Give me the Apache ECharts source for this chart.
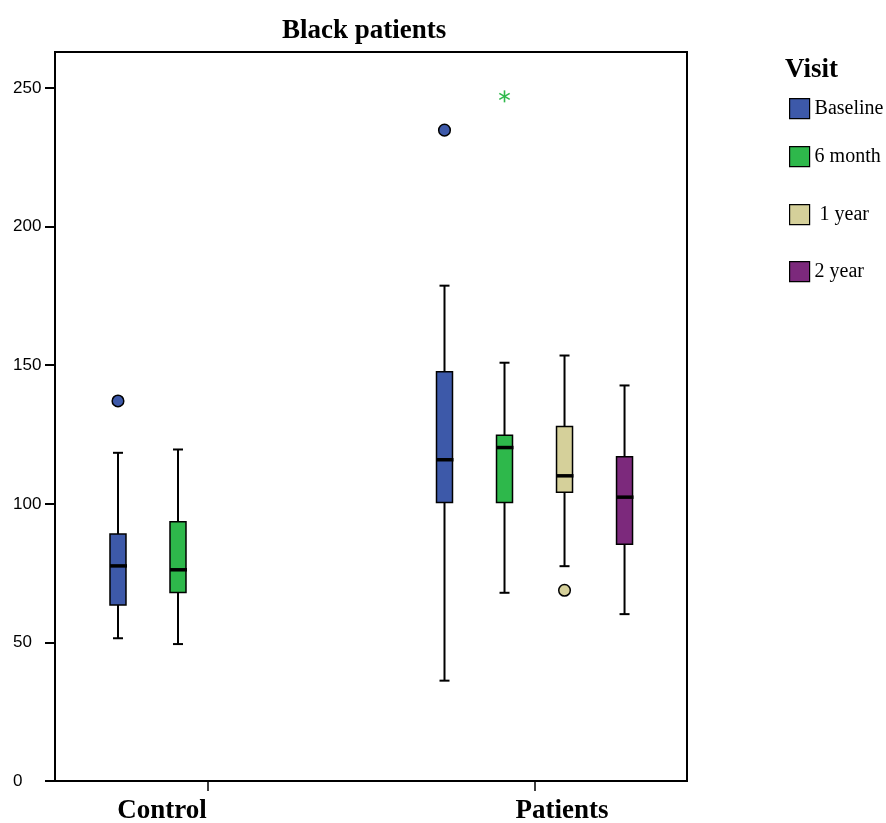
<!DOCTYPE html>
<html><head><meta charset="utf-8">
<script src="https://cdn.jsdelivr.net/npm/echarts@6/dist/echarts.min.js"></script>
<style>html,body{margin:0;padding:0;background:#fff}#c{width:886px;height:823px}</style>
</head><body><div id="c"></div>
<script>
const categories = ['Control', 'Patients'];
const visits = ['Baseline', '6 month', ' 1 year', '2 year'];
const colors = ['#3d59a9', '#2eb84b', '#d5d09a', '#7c297c'];
// box stats per category: [min, Q1, median, Q3, max]; null = group not measured
const baselineBox = [[51.5, 63.5, 77.6, 89.1, 118.4], [36.2, 100.5, 115.9, 147.6, 178.7]];
const sixMonthBox = [[49.4, 68.0, 76.2, 93.5, 119.6], [67.9, 100.5, 120.3, 124.7, 150.9]];
const oneYearBox = [null, [77.5, 104.2, 110.1, 127.9, 153.5]];
const twoYearBox = [null, [60.2, 85.4, 102.4, 117.0, 142.7]];
// outliers: [categoryIndex, value]
const baselineOutliers = [[0, 137.1], [1, 234.8]];
const sixMonthOutliers = [[1, 247.0]];
const oneYearOutliers = [[1, 68.8]];
const twoYearOutliers = [];
const yTicks = [0, 50, 100, 150, 200, 250];

const boxSets = [baselineBox, sixMonthBox, oneYearBox, twoYearBox];
const outlierSets = [baselineOutliers, sixMonthOutliers, oneYearOutliers, twoYearOutliers];
const outlierKind = ['circle', 'star', 'circle', 'circle'];

const SLOT = 0.1838; // fraction of category unit between neighbouring boxes
function slotX(api, ci, slot) {
  const unit = api.size([1, 0])[0];
  return api.coord([ci, 0])[0] + (slot - 1.5) * unit * SLOT;
}
function boxRender(slot) {
  return function (params, api) {
    const ci = api.value(0);
    const x = slotX(api, ci, slot);
    const y = i => api.coord([ci, api.value(i)])[1];
    const yMin = y(1), yQ1 = y(2), yMed = y(3), yQ3 = y(4), yMax = y(5);
    const bw = 16, cw = 10;
    const ls = { stroke: '#000', lineWidth: 2 };
    return { type: 'group', children: [
      { type: 'line', shape: { x1: x, y1: yMax, x2: x, y2: yQ3 }, style: ls },
      { type: 'line', shape: { x1: x, y1: yQ1, x2: x, y2: yMin }, style: ls },
      { type: 'line', shape: { x1: x - cw / 2, y1: yMax, x2: x + cw / 2, y2: yMax }, style: ls },
      { type: 'line', shape: { x1: x - cw / 2, y1: yMin, x2: x + cw / 2, y2: yMin }, style: ls },
      { type: 'rect', shape: { x: x - bw / 2, y: yQ3, width: bw, height: yQ1 - yQ3 },
        style: { fill: api.visual('color'), stroke: '#000', lineWidth: 1.5 } },
      { type: 'line', shape: { x1: x - bw / 2, y1: yMed, x2: x + bw / 2 + 1, y2: yMed },
        style: { stroke: '#000', lineWidth: 3.5 } }
    ]};
  };
}
function outlierRender(slot, kind) {
  return function (params, api) {
    const ci = api.value(0);
    const x = slotX(api, ci, slot);
    const yv = api.coord([ci, api.value(1)])[1];
    const col = api.visual('color');
    if (kind === 'star') {
      const r = 6, s = { stroke: col, lineWidth: 1.6 };
      const a = Math.cos(Math.PI / 6) * r, b = Math.sin(Math.PI / 6) * r;
      return { type: 'group', children: [
        { type: 'line', shape: { x1: x, y1: yv - r, x2: x, y2: yv + r }, style: s },
        { type: 'line', shape: { x1: x - a, y1: yv - b, x2: x + a, y2: yv + b }, style: s },
        { type: 'line', shape: { x1: x - a, y1: yv + b, x2: x + a, y2: yv - b }, style: s }
      ]};
    }
    return { type: 'circle', shape: { cx: x, cy: yv, r: 5.8 },
      style: { fill: col, stroke: '#000', lineWidth: 1.5 } };
  };
}

const series = [];
visits.forEach((v, k) => {
  series.push({
    type: 'custom', name: v, xAxisIndex: 0, yAxisIndex: 0,
    itemStyle: { color: colors[k] },
    renderItem: boxRender(k),
    encode: { x: 0, y: [1, 2, 3, 4, 5] },
    data: boxSets[k].map((b, i) => b ? [i].concat(b) : null).filter(d => d)
  });
});
visits.forEach((v, k) => {
  series.push({
    type: 'custom', name: v,
    itemStyle: { color: colors[k] },
    renderItem: outlierRender(k, outlierKind[k]),
    encode: { x: 0, y: 1 },
    data: outlierSets[k]
  });
});

const legendTops = [98, 146, 204, 261];
const legends = visits.map((v, k) => ({
  orient: 'vertical', left: 789, top: legendTops[k], padding: 0,
  itemWidth: 20, itemHeight: 20, selectedMode: false,
  textStyle: { fontFamily: 'Liberation Serif', fontSize: 20, color: '#000' },
  data: [{ name: v, icon: 'rect', itemStyle: { color: colors[k], borderColor: '#000', borderWidth: 1.2 } }]
}));

const chart = echarts.init(document.getElementById('c'), null, { renderer: 'canvas' });
chart.setOption({
  backgroundColor: '#fff',
  animation: false,
  title: [
    { text: 'Black patients', left: 282, top: 18, padding: 0,
      textStyle: { fontFamily: 'Liberation Serif', fontWeight: 'bold', fontSize: 27, color: '#000' } },
    { text: 'Visit', left: 785, top: 57, padding: 0,
      textStyle: { fontFamily: 'Liberation Serif', fontWeight: 'bold', fontSize: 27, color: '#000' } }
  ],
  legend: legends,
  grid: { left: 55, right: 199, top: 52, bottom: 42, show: true, borderColor: '#000', borderWidth: 2,
    containLabel: false, outerBoundsMode: 'none' },
  xAxis: {
    type: 'value', min: -0.4686, max: 1.467,
    axisLine: { show: true, onZero: false, lineStyle: { color: '#000', width: 2 } },
    axisTick: { show: true, customValues: [0, 1], length: 10, lineStyle: { color: '#000', width: 1.5 } },
    axisLabel: {
      customValues: [-0.141, 1.084], margin: 17,
      formatter: v => categories[Math.round(v)],
      fontFamily: 'Liberation Serif', fontWeight: 'bold', fontSize: 27, color: '#000'
    },
    splitLine: { show: false }
  },
  yAxis: {
    type: 'value', min: 0, max: 263,
    axisLine: { show: true, onZero: false, lineStyle: { color: '#000', width: 2 } },
    axisTick: { show: true, customValues: yTicks, length: 10, lineStyle: { color: '#000', width: 2 } },
    axisLabel: { customValues: yTicks, align: 'left', margin: 42,
      fontFamily: 'Liberation Sans', fontSize: 17, color: '#000' },
    splitLine: { show: false }
  },
  series: series
});
</script></body></html>
